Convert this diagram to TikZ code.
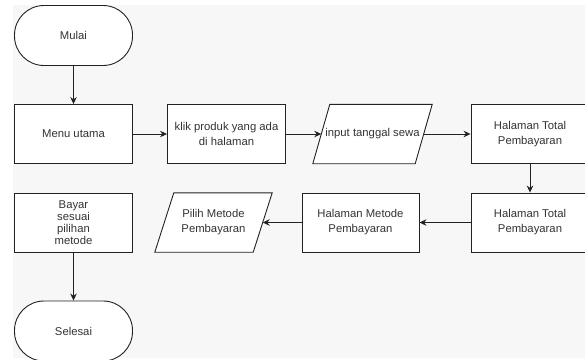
\documentclass[tikz,border=0pt]{standalone}
\usepackage{fontspec}
\setmainfont{Liberation Sans}
\usetikzlibrary{arrows.meta,backgrounds}
\definecolor{bgray}{HTML}{F7F7F7}
\definecolor{lineC}{HTML}{222222}
\definecolor{txtC}{HTML}{333333}
\tikzset{
  txt/.style={text=txtC, align=center, font=\fontsize{11.3}{15}\selectfont},
  base/.style={draw=lineC, fill=white, line width=0.9pt, txt, inner sep=1pt},
  procbox/.style={base, rectangle, minimum width=118pt, minimum height=59pt},
  termbox/.style={base, rectangle, rounded corners=29.5pt, minimum width=118pt, minimum height=60pt},
  iobody/.style={txt, rectangle, inner sep=0pt, minimum height=59pt},
  ioshape/.style={draw=lineC, fill=white, line width=0.9pt},
  conn/.style={draw=lineC, line width=0.9pt, -{Stealth[length=7pt,width=6.5pt]}}
}
\begin{document}
\begin{tikzpicture}[x=1pt,y=-1pt]
\useasboundingbox (0,0) rectangle (585,359);
\begin{scope}[on background layer]
\fill[white] (0,0) rectangle (585,359);
\fill[bgray] (13,5) rectangle (585,358);
\end{scope}
\node[termbox] (mulai) at (73.5,35.5) {Mulai};
\node[procbox] (menu) at (73.5,134) {Menu utama};
\node[procbox] (klik) at (226.5,134) {klik produk yang ada\\di halaman};
\node[iobody, minimum width=102pt] (input) at (372.5,134) {\makebox[0pt]{input tanggal sewa}};
\node[procbox] (hal1) at (530,134) {Halaman Total\\Pembayaran};
\node[procbox] (hal2) at (530,222.5) {Halaman Total\\Pembayaran};
\node[procbox, minimum width=117pt] (metode) at (360.5,222.5) {Halaman Metode\\Pembayaran};
\node[iobody, minimum width=98pt] (pilih) at (213.5,222.5) {Pilih Metode\\Pembayaran};
\node[procbox, font=\fontsize{11.3}{12}\selectfont] (bayar) at (73.5,222.5) {Bayar\\sesuai\\pilihan\\metode};
\node[termbox] (selesai) at (73.5,331) {Selesai};
\begin{scope}[on background layer]
\draw[ioshape] ([xshift=8.5pt]input.north west) -- ([xshift=8.5pt]input.north east)
  -- ([xshift=-8.5pt]input.south east) -- ([xshift=-8.5pt]input.south west) -- cycle;
\draw[ioshape] ([xshift=9.5pt]pilih.north west) -- ([xshift=9.5pt]pilih.north east)
  -- ([xshift=-9.5pt]pilih.south east) -- ([xshift=-9.5pt]pilih.south west) -- cycle;
\end{scope}
\draw[conn] (mulai) -- (menu);
\draw[conn] (menu) -- (klik);
\draw[conn] (klik) -- (input);
\draw[conn] (input) -- (hal1);
\draw[conn] (hal1) -- (hal2);
\draw[conn] (hal2) -- (metode);
\draw[conn] (metode) -- (pilih);
\draw[conn] (bayar) -- (selesai);
\end{tikzpicture}
\end{document}
